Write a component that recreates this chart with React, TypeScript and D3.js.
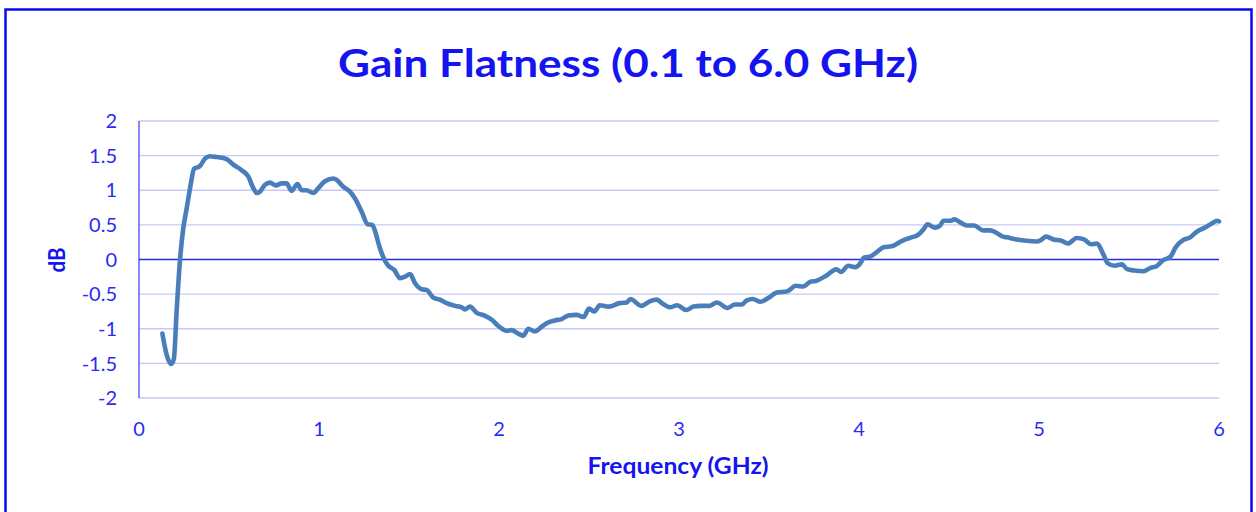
import React, { useEffect, useRef } from 'react';
import * as d3 from 'd3';

// frequency sweep (GHz)
const freqGHz = [
    0.13, 0.154, 0.18, 0.194, 0.209, 0.228, 0.246, 0.265, 0.287, 0.306,
    0.339, 0.367, 0.394, 0.43, 0.487, 0.524, 0.57, 0.607, 0.635, 0.654,
    0.672, 0.70, 0.728, 0.761, 0.793, 0.82, 0.848, 0.88, 0.904, 0.93,
    0.969, 0.996, 1.033, 1.08, 1.098, 1.135, 1.172, 1.2, 1.237, 1.27,
    1.296, 1.315, 1.333, 1.363, 1.385, 1.418, 1.45, 1.475, 1.506, 1.533,
    1.57, 1.598, 1.635, 1.672, 1.709, 1.756, 1.793, 1.81, 1.838, 1.876,
    1.92, 1.96, 1.996, 2.043, 2.07, 2.107, 2.135, 2.163, 2.2, 2.228,
    2.265, 2.31, 2.348, 2.385, 2.43, 2.47, 2.50, 2.53, 2.56, 2.61,
    2.67, 2.71, 2.73, 2.79, 2.84, 2.876, 2.91, 2.95, 2.99, 3.04,
    3.08, 3.12, 3.17, 3.21, 3.27, 3.31, 3.35, 3.376, 3.41, 3.45,
    3.50, 3.54, 3.60, 3.65, 3.69, 3.73, 3.76, 3.82, 3.875, 3.90,
    3.94, 3.98, 4.0, 4.03, 4.06, 4.10, 4.14, 4.18, 4.24, 4.28,
    4.33, 4.36, 4.38, 4.42, 4.45, 4.47, 4.51, 4.53, 4.56, 4.60,
    4.64, 4.69, 4.73, 4.76, 4.80, 4.82, 4.876, 4.93, 4.99, 5.01,
    5.04, 5.08, 5.125, 5.16, 5.21, 5.25, 5.29, 5.32, 5.36, 5.38,
    5.42, 5.46, 5.49, 5.53, 5.58, 5.62, 5.65, 5.69, 5.73, 5.76,
    5.80, 5.84, 5.876, 5.92, 5.96, 5.99, 6.0
];

// gain deviation (dB)
const gainDb = [
    -1.07, -1.38, -1.51, -1.43, -0.75, 0, 0.45, 0.74, 1.08, 1.31,
    1.35, 1.46, 1.49, 1.48, 1.45, 1.37, 1.29, 1.20, 1.03, 0.96,
    0.98, 1.08, 1.11, 1.07, 1.10, 1.10, 0.99, 1.09, 1.00, 1.00,
    0.96, 1.03, 1.13, 1.17, 1.15, 1.05, 0.98, 0.88, 0.69, 0.51,
    0.50, 0.38, 0.21, 0.0, -0.09, -0.15, -0.27, -0.25, -0.21, -0.34,
    -0.43, -0.44, -0.55, -0.58, -0.63, -0.67, -0.69, -0.72, -0.68, -0.77,
    -0.81, -0.87, -0.96, -1.03, -1.02, -1.07, -1.10, -1.00, -1.04, -0.99,
    -0.92, -0.88, -0.86, -0.81, -0.80, -0.83, -0.71, -0.75, -0.66, -0.68,
    -0.63, -0.62, -0.57, -0.67, -0.60, -0.58, -0.64, -0.69, -0.66, -0.73,
    -0.68, -0.67, -0.67, -0.62, -0.70, -0.65, -0.65, -0.59, -0.57, -0.61,
    -0.55, -0.48, -0.46, -0.38, -0.39, -0.32, -0.31, -0.23, -0.14, -0.18,
    -0.09, -0.11, -0.08, 0.03, 0.04, 0.11, 0.18, 0.19, 0.27, 0.31,
    0.36, 0.44, 0.51, 0.46, 0.49, 0.56, 0.56, 0.58, 0.54, 0.49,
    0.49, 0.42, 0.42, 0.39, 0.33, 0.32, 0.29, 0.27, 0.26, 0.28,
    0.33, 0.29, 0.27, 0.23, 0.31, 0.29, 0.22, 0.23, 0.06, -0.05,
    -0.09, -0.07, -0.14, -0.16, -0.17, -0.12, -0.10, -0.01, 0.04, 0.18,
    0.28, 0.32, 0.40, 0.46, 0.52, 0.56, 0.55
];

const xTicks = [0, 1, 2, 3, 4, 5, 6];
const yTicks = [-2, -1.5, -1, -0.5, 0, 0.5, 1, 1.5, 2];

const chartTitle = 'Gain Flatness (0.1 to 6.0 GHz)';
const xTitle = 'Frequency (GHz)';
const yTitle = 'dB';

export default function App() {
    const ref = useRef<SVGSVGElement>(null);

    useEffect(() => {
        const svgWidth = 1256, svgHeight = 512;
        const plot = {left: 139, right: 1219, top: 121, bottom: 398};
        const font = 'Lato, "Open Sans", sans-serif';
        const textBlue = '#2b2bf5';

        const svg = d3.select(ref.current)
            .attr('width', svgWidth)
            .attr('height', svgHeight);
        svg.selectAll('*').remove();

        // outer frame
        svg.append('rect')
            .attr('x', 5.5).attr('y', 9.5)
            .attr('width', 1246).attr('height', 530)
            .attr('fill', 'white')
            .attr('stroke', '#0a0af0')
            .attr('stroke-width', 2.5);

        const x = d3.scaleLinear().domain([0, 6]).range([plot.left, plot.right]);
        const y = d3.scaleLinear().domain([-2, 2]).range([plot.bottom, plot.top]);

        // gridlines
        svg.append('g')
            .selectAll('line')
            .data(yTicks.filter(t => t !== 0))
            .enter()
                .append('line')
                .attr('x1', plot.left).attr('x2', plot.right)
                .attr('y1', d => y(d)).attr('y2', d => y(d))
                .attr('stroke', '#c8c8f8')
                .attr('stroke-width', 1.3);

        // value axis on the left
        svg.append('line')
            .attr('x1', plot.left).attr('x2', plot.left)
            .attr('y1', plot.top).attr('y2', plot.bottom)
            .attr('stroke', '#3a3af0')
            .attr('stroke-width', 1.2);

        // zero line
        svg.append('line')
            .attr('x1', plot.left).attr('x2', plot.right)
            .attr('y1', y(0)).attr('y2', y(0))
            .attr('stroke', '#2a2ae0')
            .attr('stroke-width', 1.3);

        svg.append('g')
            .selectAll('text')
            .data(yTicks)
            .enter()
                .append('text')
                .attr('x', 117)
                .attr('y', d => y(d))
                .attr('dy', '0.36em')
                .attr('text-anchor', 'end')
                .attr('font-family', font)
                .attr('font-size', 20)
                .attr('fill', textBlue)
                .text(d => String(d));

        svg.append('g')
            .selectAll('text')
            .data(xTicks)
            .enter()
                .append('text')
                .attr('x', d => x(d))
                .attr('y', 429)
                .attr('dy', '0.36em')
                .attr('text-anchor', 'middle')
                .attr('font-family', font)
                .attr('font-size', 20)
                .attr('fill', textBlue)
                .text(d => String(d));

        const line = d3.line<number>()
            .x((d, i) => x(freqGHz[i]))
            .y(d => y(d))
            .curve(d3.curveMonotoneX);

        svg.append('path')
            .datum(gainDb)
            .attr('d', line)
            .attr('fill', 'none')
            .attr('stroke', '#4a7ebb')
            .attr('stroke-width', 4.6)
            .attr('stroke-linejoin', 'round')
            .attr('stroke-linecap', 'round');

        svg.append('text')
            .attr('x', 628).attr('y', 77)
            .attr('text-anchor', 'middle')
            .attr('font-family', font)
            .attr('font-weight', 'bold')
            .attr('font-size', 39)
            .attr('fill', '#1414f0')
            .attr('textLength', 580)
            .attr('lengthAdjust', 'spacingAndGlyphs')
            .text(chartTitle);

        svg.append('text')
            .attr('x', (plot.left + plot.right) / 2 - 1).attr('y', 474)
            .attr('text-anchor', 'middle')
            .attr('font-family', font)
            .attr('font-weight', 'bold')
            .attr('font-size', 22)
            .attr('fill', '#1414f0')
            .attr('textLength', 181)
            .attr('lengthAdjust', 'spacingAndGlyphs')
            .text(xTitle);

        svg.append('text')
            .attr('transform', 'translate(65, 260) rotate(-90)')
            .attr('text-anchor', 'middle')
            .attr('font-family', font)
            .attr('font-weight', 'bold')
            .attr('font-size', 23)
            .attr('fill', '#1414f0')
            .attr('textLength', 25)
            .attr('lengthAdjust', 'spacingAndGlyphs')
            .text(yTitle);
    }, []);

    return (
        <div style={{position: 'absolute', left: 0, top: 0}}>
            <svg ref={ref}></svg>
        </div>
    );
}
